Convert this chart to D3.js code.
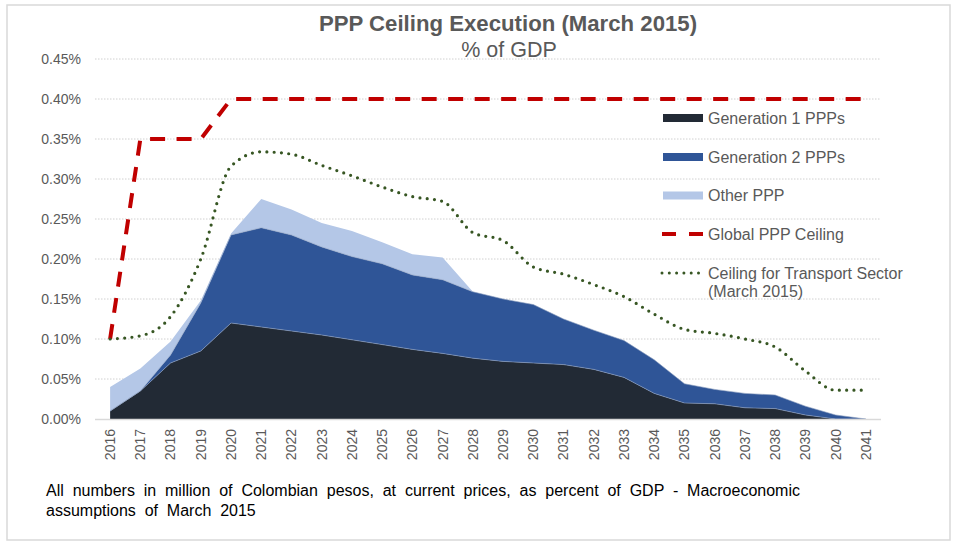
<!DOCTYPE html>
<html>
<head>
<meta charset="utf-8">
<script src="https://cdn.jsdelivr.net/npm/d3@7"></script>
<style>
  body { margin: 0; background: #fff; }
  text { font-family: "Liberation Sans", Arial, sans-serif; }
</style>
</head>
<body>
<div id="container"></div>
<script>
    // Data (% of GDP)
    let years = d3.range(2016, 2042).map(String);
    let gen1 = [0.010, 0.035, 0.070, 0.085, 0.120, 0.115, 0.110, 0.105, 0.099, 0.093, 0.087, 0.082, 0.076, 0.072, 0.070, 0.068, 0.062, 0.052, 0.032, 0.020, 0.019, 0.014, 0.013, 0.005, 0.000, 0.000];
    let gen2 = [0.000, 0.000, 0.010, 0.060, 0.110, 0.124, 0.120, 0.110, 0.104, 0.101, 0.093, 0.092, 0.083, 0.078, 0.073, 0.057, 0.049, 0.046, 0.042, 0.024, 0.018, 0.018, 0.017, 0.011, 0.005, 0.000];
    let other = [0.030, 0.028, 0.017, 0.003, 0.002, 0.036, 0.032, 0.030, 0.032, 0.027, 0.026, 0.028, 0.000, 0.000, 0.000, 0.000, 0.000, 0.000, 0.000, 0.000, 0.000, 0.000, 0.000, 0.000, 0.000, 0.000];
    let globalCeiling = [0.10, 0.35, 0.35, 0.35, 0.40, 0.40, 0.40, 0.40, 0.40, 0.40, 0.40, 0.40, 0.40, 0.40, 0.40, 0.40, 0.40, 0.40, 0.40, 0.40, 0.40, 0.40, 0.40, 0.40, 0.40, 0.40];
    let transportCeiling = [0.100, 0.104, 0.128, 0.200, 0.316, 0.334, 0.331, 0.317, 0.304, 0.290, 0.278, 0.272, 0.233, 0.223, 0.190, 0.181, 0.168, 0.153, 0.131, 0.112, 0.107, 0.100, 0.090, 0.060, 0.036, 0.036];
    let yTicks = [0, 0.05, 0.10, 0.15, 0.20, 0.25, 0.30, 0.35, 0.40, 0.45];

    let keys = ["gen1", "gen2", "other"];
    let colors = { gen1: "#222a35", gen2: "#2f5597", other: "#b4c7e7" };
    let table = years.map((y, i) => ({ year: y, gen1: gen1[i], gen2: gen2[i], other: other[i] }));

    let W = 953, H = 542;
    let svg = d3.select("#container")
        .append("svg")
        .attr("width", W)
        .attr("height", H);

    // frame
    svg.append("rect")
        .attr("x", 7).attr("y", 5)
        .attr("width", 943).attr("height", 535)
        .attr("fill", "#fff")
        .attr("stroke", "#d9d9d9")
        .attr("stroke-width", 1.5);

    let x = d3.scalePoint().domain(years).range([95, 881]).padding(0.5);
    let y = d3.scaleLinear().domain([0, 0.45]).range([419, 59]);

    // gridlines
    svg.append("g")
        .selectAll("line")
        .data(yTicks.slice(1))
        .join("line")
        .attr("x1", 95).attr("x2", 881)
        .attr("y1", d => y(d)).attr("y2", d => y(d))
        .attr("stroke", "#d0d0d0")
        .attr("stroke-width", 1)
        .attr("stroke-dasharray", "1.5 1.5");

    // y labels
    svg.append("g")
        .selectAll("text")
        .data(yTicks)
        .join("text")
        .attr("x", 81)
        .attr("y", d => y(d))
        .attr("dy", "0.35em")
        .attr("text-anchor", "end")
        .attr("font-size", 14)
        .attr("fill", "#595959")
        .text(d => d3.format(".2f")(d) + "%");

    // stacked areas
    let series = d3.stack().keys(keys)(table);
    let area = d3.area()
        .x(d => x(d.data.year))
        .y0(d => y(d[0]))
        .y1(d => y(d[1]));

    svg.append("g")
        .selectAll("path")
        .data(series)
        .join("path")
        .attr("fill", d => colors[d.key])
        .attr("d", area);

    // thin light edges between layers
    svg.append("g")
        .selectAll("path")
        .data(series.slice(0, 2))
        .join("path")
        .attr("fill", "none")
        .attr("stroke", "#8da0c0")
        .attr("stroke-width", 0.6)
        .attr("d", d3.line().x(d => x(d.data.year)).y(d => y(d[1])));

    // x axis line
    svg.append("line")
        .attr("x1", 95).attr("x2", 881)
        .attr("y1", 419.5).attr("y2", 419.5)
        .attr("stroke", "#d9d9d9")
        .attr("stroke-width", 1.5);

    // x labels
    svg.append("g")
        .selectAll("text")
        .data(years)
        .join("text")
        .attr("transform", d => `translate(${x(d)},429) rotate(-90)`)
        .attr("dy", "0.35em")
        .attr("text-anchor", "end")
        .attr("font-size", 14)
        .attr("fill", "#595959")
        .text(d => d);

    // lines
    let line = d3.line().x((d, i) => x(years[i])).y(d => y(d));

    svg.append("path")
        .datum(globalCeiling)
        .attr("fill", "none")
        .attr("stroke", "#c00000")
        .attr("stroke-width", 4)
        .attr("stroke-dasharray", "15 11.5")
        .attr("d", line);

    svg.append("path")
        .datum(transportCeiling)
        .attr("fill", "none")
        .attr("stroke", "#375623")
        .attr("stroke-width", 3.2)
        .attr("stroke-linecap", "round")
        .attr("stroke-dasharray", "0 7.3")
        .attr("d", line.curve(d3.curveMonotoneX));

    // title
    svg.append("text")
        .attr("x", 508).attr("y", 31)
        .attr("text-anchor", "middle")
        .attr("font-size", 22.2)
        .attr("font-weight", "bold")
        .attr("fill", "#595959")
        .text("PPP Ceiling Execution (March 2015)");
    svg.append("text")
        .attr("x", 509).attr("y", 57)
        .attr("text-anchor", "middle")
        .attr("font-size", 21.5)
        .attr("fill", "#595959")
        .text("% of GDP");

    // legend
    let legendItems = [
        { label: ["Generation 1 PPPs"], type: "rect", color: colors.gen1, y: 118 },
        { label: ["Generation 2 PPPs"], type: "rect", color: colors.gen2, y: 157 },
        { label: ["Other PPP"], type: "rect", color: colors.other, y: 195.5 },
        { label: ["Global PPP Ceiling"], type: "dash", color: "#c00000", y: 234 },
        { label: ["Ceiling for Transport Sector", "(March 2015)"], type: "dot", color: "#375623", y: 273 }
    ];
    let lg = svg.append("g")
        .selectAll("g")
        .data(legendItems)
        .join("g")
        .attr("transform", d => `translate(0,${d.y})`);

    lg.filter(d => d.type === "rect")
        .append("rect")
        .attr("x", 663).attr("y", -4)
        .attr("width", 40).attr("height", 8)
        .attr("fill", d => d.color);
    lg.filter(d => d.type === "dash")
        .append("line")
        .attr("x1", 662).attr("x2", 703)
        .attr("stroke", d => d.color)
        .attr("stroke-width", 4)
        .attr("stroke-dasharray", "14 13");
    lg.filter(d => d.type === "dot")
        .append("line")
        .attr("x1", 662).attr("x2", 704)
        .attr("stroke", d => d.color)
        .attr("stroke-width", 3)
        .attr("stroke-linecap", "round")
        .attr("stroke-dasharray", "0 7.3");

    lg.append("text")
        .attr("x", 708)
        .attr("font-size", 16)
        .attr("fill", "#595959")
        .selectAll("tspan")
        .data(d => d.label)
        .join("tspan")
        .attr("x", 708)
        .attr("y", (d, i) => i * 18)
        .attr("dy", "0.35em")
        .text(d => d);

    // footnote
    let note = ["All numbers in million of Colombian pesos, at current prices, as percent of GDP - Macroeconomic",
        "assumptions of March 2015"];
    svg.append("g")
        .selectAll("text")
        .data(note)
        .join("text")
        .attr("x", 46)
        .attr("y", (d, i) => 496 + i * 20)
        .attr("font-size", 16)
        .attr("word-spacing", 4.4)
        .attr("fill", "#000")
        .text(d => d);
</script>
</body>
</html>
